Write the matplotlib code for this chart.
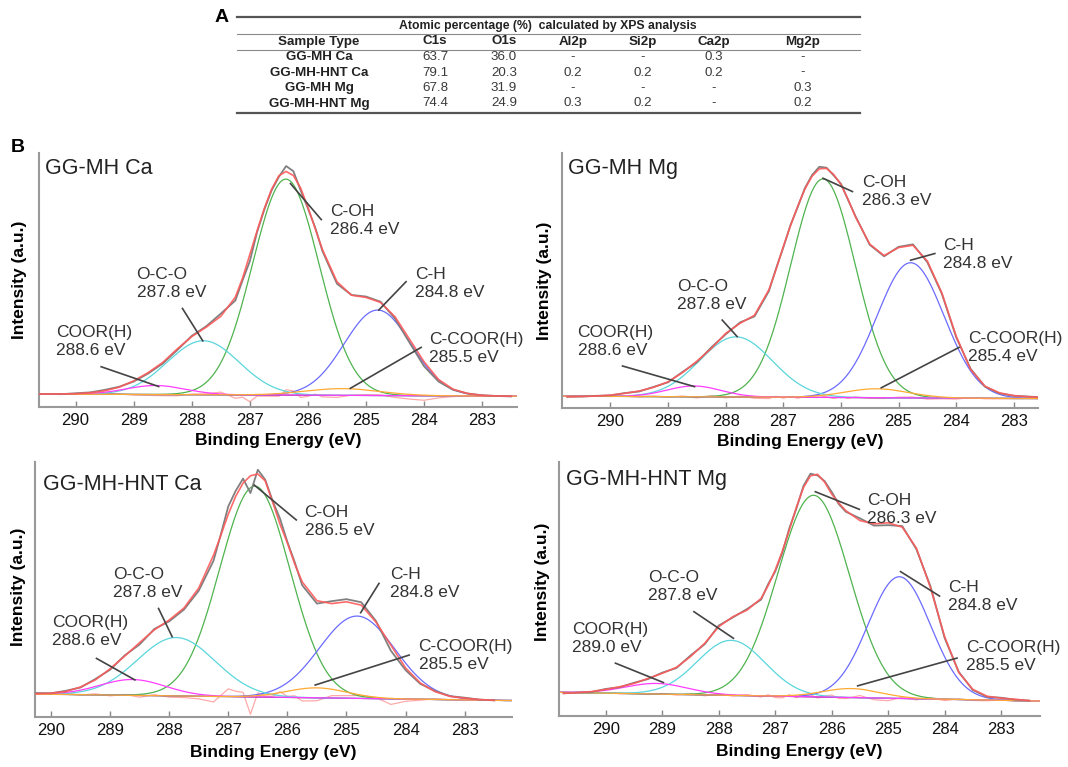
import numpy as np
import matplotlib
matplotlib.use("Agg")
import matplotlib.pyplot as plt
from matplotlib.lines import Line2D

plt.rcParams['font.family'] = ['Liberation Sans', 'DejaVu Sans']

# ---------------- Panel A : table data ----------------
table_title = "Atomic percentage (%)  calculated by XPS analysis"
table_columns = ["Sample Type", "C1s", "O1s", "Al2p", "Si2p", "Ca2p", "Mg2p"]
table_samples = ["GG-MH Ca", "GG-MH-HNT Ca", "GG-MH Mg", "GG-MH-HNT Mg"]
col_c1s = ["63.7", "79.1", "67.8", "74.4"]
col_o1s = ["36.0", "20.3", "31.9", "24.9"]
col_al2p = ["-", "0.2", "-", "0.3"]
col_si2p = ["-", "0.2", "-", "0.2"]
col_ca2p = ["0.3", "0.2", "-", "-"]
col_mg2p = ["-", "-", "0.3", "0.2"]

# ---------------- Panel B : C1s spectra data ----------------
panel_titles = ["GG-MH Ca", "GG-MH Mg", "GG-MH-HNT Ca", "GG-MH-HNT Mg"]
component_names = ["C-OH", "C-H", "O-C-O", "COOR(H)", "C-COOR(H)"]
peak_labels_mh_ca = ["286.4 eV", "284.8 eV", "287.8 eV", "288.6 eV", "285.5 eV"]
peak_labels_mh_mg = ["286.3 eV", "284.8 eV", "287.8 eV", "288.6 eV", "285.4 eV"]
peak_labels_hnt_ca = ["286.5 eV", "284.8 eV", "287.8 eV", "288.6 eV", "285.5 eV"]
peak_labels_hnt_mg = ["286.3 eV", "284.8 eV", "287.8 eV", "289.0 eV", "285.5 eV"]

# fitted components (order as component_names): centre (eV), height (a.u.), FWHM (eV)
centers_mh_ca = [286.38, 284.80, 287.80, 288.62, 285.40]
heights_mh_ca = [96.0, 38.0, 24.0, 4.0, 3.0]
fwhm_mh_ca = [1.35, 1.35, 1.45, 1.20, 1.50]
background_mh_ca = [0.5, -0.5]      # at high-BE end, low-BE end

centers_mh_mg = [286.31, 284.79, 287.82, 288.55, 285.38]
heights_mh_mg = [95.2, 58.9, 26.2, 4.7, 3.9]
fwhm_mh_mg = [1.32, 1.37, 1.48, 1.10, 1.30]
background_mh_mg = [0.3, -0.8]

centers_hnt_ca = [286.55, 284.82, 287.88, 288.62, 285.50]
heights_hnt_ca = [95.0, 37.1, 26.3, 7.1, 4.5]
fwhm_hnt_ca = [1.40, 1.50, 1.55, 1.30, 1.20]
background_hnt_ca = [0.5, -2.5]

centers_hnt_mg = [286.32, 284.80, 287.78, 289.10, 285.65]
heights_hnt_mg = [91.6, 55.3, 25.0, 4.8, 4.1]
fwhm_hnt_mg = [1.50, 1.30, 1.41, 1.30, 1.20]
background_hnt_mg = [0.5, -3.5]

energy_grid = [290.75, 290.5, 290.25, 290.0, 289.75, 289.5, 289.25, 289.0, 288.75,
               288.5, 288.25, 288.0, 287.75, 287.5, 287.25, 287.125, 287.0, 286.875,
               286.75, 286.625, 286.5, 286.375, 286.25, 286.125, 286.0, 285.875,
               285.75, 285.5, 285.25, 285.0, 284.75, 284.5, 284.25, 284.0, 283.75,
               283.5, 283.25, 283.0, 282.75, 282.5]

envelope_mh_ca = [0.5, 0.5, 0.5, 0.6, 1.0, 1.9, 3.5, 6.3, 10.0, 14.5, 20.5, 26.0, 30.2,
                  35.0, 43.5, 52.0, 62.5, 73.0, 83.0, 91.5, 97.5, 99.4, 97.6, 92.0,
                  83.5, 74.0, 64.7, 50.4, 44.4, 43.4, 41.2, 34.8, 24.8, 14.8, 6.9, 2.6,
                  0.7, -0.1, -0.4, -0.5]
measured_mh_ca = [0.5, 0.5, 0.4, 0.8, 1.2, 2.3, 3.7, 6.0, 9.6, 14.0, 20.0, 26.3, 30.6,
                  36.2, 42.0, 51.0, 59.5, 72.5, 82.5, 91.0, 97.0, 101.8, 99.5, 91.0,
                  83.0, 74.5, 64.0, 49.5, 44.5, 43.8, 41.5, 34.0, 23.3, 12.8, 6.0, 2.3,
                  0.7, -0.1, -0.4, -0.6]

envelope_mh_mg = [0.0, 0.1, 0.3, 0.7, 1.5, 2.5, 4.1, 6.5, 10.5, 15.5, 21.0, 27.6, 32.0,
                  35.5, 46.6, 55.5, 65.4, 74.5, 83.0, 90.5, 96.1, 99.3, 99.5, 96.8,
                  92.5, 86.0, 78.5, 66.5, 61.5, 65.0, 66.0, 59.1, 45.3, 26.4, 11.9, 4.6,
                  1.7, 0.5, 0.0, -0.3]
measured_mh_mg = [0.0, 0.1, 0.4, 0.6, 1.6, 2.3, 4.3, 6.3, 10.8, 15.0, 21.5, 27.2, 32.4,
                  35.0, 46.0, 55.9, 65.0, 74.8, 82.6, 90.9, 96.6, 100.2, 99.8, 96.4,
                  92.8, 85.7, 78.8, 66.2, 61.2, 65.3, 66.4, 58.6, 45.0, 26.0, 12.2, 4.4,
                  1.5, 0.4, 0.1, -0.3]

envelope_hnt_ca = [0.7, 0.6, 0.6, 0.8, 1.6, 3.6, 6.8, 11.8, 17.6, 23.6, 29.4, 33.8, 39.2,
                   48.2, 63.0, 72.0, 81.5, 89.5, 95.5, 98.8, 99.6, 96.5, 87.0, 77.0,
                   68.5, 59.0, 51.0, 42.5, 41.2, 42.0, 40.5, 32.8, 22.5, 12.2, 5.4, 1.5,
                   -0.6, -1.4, -2.0, -2.4]
measured_hnt_ca = [0.7, 0.4, 0.9, 0.8, 1.9, 3.4, 7.2, 11.4, 17.9, 22.8, 29.8, 33.2, 38.5,
                   47.0, 60.5, 72.5, 85.0, 92.0, 97.5, 91.0, 101.5, 97.0, 87.5, 79.5,
                   69.0, 59.8, 49.5, 41.2, 42.3, 43.2, 41.8, 33.3, 20.0, 11.2, 5.0, 1.8,
                   -0.5, -1.2, -2.1, -2.4]

envelope_hnt_mg = [0.0, 0.3, 0.8, 1.8, 3.0, 4.5, 6.8, 9.1, 11.8, 16.7, 22.7, 30.3, 34.8,
                   37.8, 43.1, 49.0, 56.0, 64.5, 74.2, 84.5, 93.5, 98.8, 99.5, 96.0,
                   90.5, 86.5, 83.0, 78.5, 77.0, 77.5, 75.5, 66.0, 48.0, 25.8, 9.5, 1.8,
                   -1.3, -2.2, -2.7, -3.3]
measured_hnt_mg = [0.0, 0.4, 0.6, 2.0, 2.8, 4.8, 6.5, 9.4, 11.5, 17.2, 22.3, 30.8, 34.5,
                   38.3, 42.6, 49.6, 55.4, 63.8, 75.0, 84.0, 94.2, 99.8, 99.0, 96.4,
                   91.5, 86.0, 82.5, 79.5, 76.2, 76.4, 76.0, 65.5, 48.6, 25.2, 9.8, 1.5,
                   -1.6, -2.0, -2.9, -3.3]

xtick_values = [290, 289, 288, 287, 286, 285, 284, 283]

# ---------------- figure ----------------
W, H = 1068, 767
fig = plt.figure(figsize=(W / 100, H / 100), dpi=100)


def fx(px):
    return px / W


def fy(py):
    return 1 - py / H


# ---- table A ----
fig.text(fx(222), fy(18), "A", fontsize=14, fontweight='bold', ha='center', va='center')
for y, lw, col in [(17, 1.6, '#555555'), (33.5, 0.8, '#8a8a8a'),
                   (49.6, 0.8, '#8a8a8a'), (113, 1.6, '#555555')]:
    fig.add_artist(Line2D([fx(237), fx(860)], [fy(y), fy(y)], lw=lw, color=col))
fig.text(fx(548), fy(25.5), table_title, fontsize=8.8, fontweight='bold',
         ha='center', va='center', color='#222222')
col_x = [319, 435, 504, 573, 643, 714, 803]
for cx, name in zip(col_x, table_columns):
    fig.text(fx(cx), fy(41.5), name, fontsize=9.6, fontweight='bold', ha='center',
             va='center', color='#222222')
row_y = [57, 72.5, 88, 103.5]
columns = [col_c1s, col_o1s, col_al2p, col_si2p, col_ca2p, col_mg2p]
for i, ry in enumerate(row_y):
    fig.text(fx(col_x[0]), fy(ry), table_samples[i], fontsize=9.6, fontweight='bold',
             ha='center', va='center', color='#222222')
    for cx, col in zip(col_x[1:], columns):
        fig.text(fx(cx), fy(ry), col[i], fontsize=9.6, ha='center', va='center',
                 color='#3a3a3a')

fig.text(fx(18), fy(148), "B", fontsize=14, fontweight='bold', ha='center', va='center')

# ---- spectra ----
comp_colors = ['#4fb34f', '#6b6bff', '#5ad6dc', '#ff3dff', '#ffaa33']

panels = [
    dict(rect=(39, 153, 517, 407), xlim=(290.63, 282.40), ylim=(-5.3, 107.6),
         c=centers_mh_ca, h=heights_mh_ca, w=fwhm_mh_ca, bg=background_mh_ca,
         meas=measured_mh_ca, env=envelope_mh_ca, labels=peak_labels_mh_ca,
         title_pos=(0.013, 0.94), ylab=(-0.040, 0.5), xlab=-0.13,
         ann=[((285.62, 77.8), (286.30, 94.0), (285.77, 78.0)),
              ((284.15, 49.6), (284.31, 50.4), (284.78, 37.8)),
              ((288.95, 49.6), (288.16, 38.5), (287.81, 24.1)),
              ((290.33, 23.7), (289.56, 12.6), (288.57, 3.8)),
              ((283.91, 20.7), (284.05, 21.2), (285.27, 3.0))]),
    dict(rect=(562, 153, 1038, 408), xlim=(290.84, 282.58), ylim=(-4.9, 106.2),
         c=centers_mh_mg, h=heights_mh_mg, w=fwhm_mh_mg, bg=background_mh_mg,
         meas=measured_mh_mg, env=envelope_mh_mg, labels=peak_labels_mh_mg,
         title_pos=(0.013, 0.94), ylab=(-0.036, 0.5), xlab=-0.13,
         ann=[((285.63, 89.4), (286.31, 95.2), (285.80, 89.4)),
              ((284.22, 61.8), (284.79, 59.5), (284.37, 62.4)),
              ((288.84, 44.3), (288.06, 33.4), (287.80, 26.2)),
              ((290.57, 24.0), (289.79, 13.4), (288.54, 4.4)),
              ((283.79, 21.5), (283.95, 21.5), (285.30, 3.9))]),
    dict(rect=(35, 462, 512, 717), xlim=(290.27, 282.20), ylim=(-9.9, 105.0),
         c=centers_hnt_ca, h=heights_hnt_ca, w=fwhm_hnt_ca, bg=background_hnt_ca,
         meas=measured_hnt_ca, env=envelope_hnt_ca, labels=peak_labels_hnt_ca,
         title_pos=(0.017, 0.91), ylab=(-0.034, 0.51), xlab=-0.141,
         ann=[((285.71, 78.0), (286.56, 94.6), (285.85, 78.9)),
              ((284.27, 50.3), (284.45, 50.3), (284.76, 37.1)),
              ((288.95, 50.3), (288.18, 39.0), (287.95, 26.3)),
              ((289.98, 28.5), (289.23, 16.5), (288.58, 6.8)),
              ((283.78, 18.0), (283.94, 18.0), (285.53, 4.5))]),
    dict(rect=(559, 462, 1040, 716), xlim=(290.83, 282.31), ylim=(-10.3, 105.1),
         c=centers_hnt_mg, h=heights_hnt_mg, w=fwhm_hnt_mg, bg=background_hnt_mg,
         meas=measured_hnt_mg, env=envelope_hnt_mg, labels=peak_labels_hnt_mg,
         title_pos=(0.015, 0.93), ylab=(-0.035, 0.53), xlab=-0.141,
         ann=[((285.37, 83.3), (286.29, 91.6), (285.51, 83.6)),
              ((283.94, 43.9), (284.78, 55.3), (284.09, 44.2)),
              ((289.26, 48.5), (288.44, 37.1), (287.74, 25.0)),
              ((290.60, 25.0), (289.83, 13.7), (288.98, 4.9)),
              ((283.62, 16.6), (283.78, 16.0), (285.54, 3.4))]),
]

E = np.linspace(282.0, 291.0, 900)
grid = np.array(energy_grid)

for k, p in enumerate(panels):
    l, t, r, b = p['rect']
    ax = fig.add_axes([fx(l), fy(b), (r - l) / W, (b - t) / H])
    ax.set_xlim(*p['xlim'])
    ax.set_ylim(*p['ylim'])
    xl, xr = p['xlim']
    bg = np.interp(E, [xr, xl], [p['bg'][1], p['bg'][0]])
    bg_grid = np.interp(grid, [xr, xl], [p['bg'][1], p['bg'][0]])
    comps = [hh * np.exp(-4 * np.log(2) * (E - cc) ** 2 / ww ** 2)
             for cc, hh, ww in zip(p['c'], p['h'], p['w'])]
    meas = np.array(p['meas'])
    env = np.array(p['env'])
    resid = meas - env + bg_grid

    ax.plot(grid, resid, color='#ffaaaa', lw=0.9, zorder=1)
    ax.plot(E, bg, color='#4a3a5a', lw=0.8, zorder=1.5)
    for comp, col in zip(comps, comp_colors):
        ax.plot(E, bg + comp, color=col, lw=0.9, zorder=2)
    ax.plot(grid, meas, color='#808080', lw=1.3, zorder=3)
    ax.plot(grid, env, color='#ff5a5a', lw=1.2, alpha=0.9, zorder=4)

    for (txy, p1, p2), name, lab in zip(p['ann'], component_names, p['labels']):
        ax.plot([p1[0], p2[0]], [p1[1], p2[1]], color='#444444', lw=1.2, zorder=5)
        ax.text(txy[0], txy[1], name + "\n" + lab, fontsize=12.5, color='#333333',
                ha='left', va='center', linespacing=1.25, zorder=6)

    ax.text(p['title_pos'][0], p['title_pos'][1], panel_titles[k], transform=ax.transAxes,
            fontsize=15.5, color='#222222', ha='left', va='center')

    for s in ['top', 'right']:
        ax.spines[s].set_visible(False)
    for s in ['left', 'bottom']:
        ax.spines[s].set_color('#999999')
        ax.spines[s].set_linewidth(1.5)
    ax.set_yticks([])
    ax.set_xticks(xtick_values)
    ax.tick_params(axis='x', direction='in', length=4, width=1, color='#888888',
                   labelsize=12, pad=4.5, labelcolor='#111111')
    ax.set_xlabel("Binding Energy (eV)", fontsize=12.5, fontweight='bold')
    ax.xaxis.label.set_va('center')
    ax.xaxis.set_label_coords(0.5, p['xlab'])
    ax.set_ylabel("Intensity (a.u.)", fontsize=12.5, fontweight='bold')
    ax.yaxis.label.set_va('center')
    ax.yaxis.set_label_coords(p['ylab'][0], p['ylab'][1])

fig.savefig("out.png", dpi=100)
